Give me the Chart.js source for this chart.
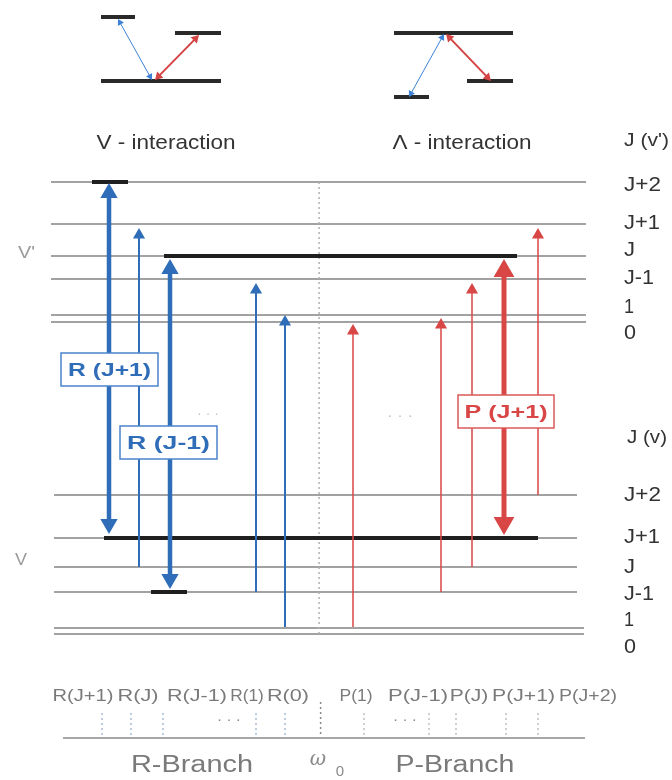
<!DOCTYPE html>
<html><head><meta charset="utf-8">
<script src="https://cdn.jsdelivr.net/npm/chart.js@4/dist/chart.umd.min.js"></script>
<style>html,body{margin:0;padding:0;background:#fff;}#wrap{width:672px;height:780px;}</style>
</head><body><div id="wrap"><canvas id="c" width="672" height="780"></canvas></div>
<script>
// ===== DATA (diagram units) =====
const levelLabels = ['J+2','J+1','J','J-1','1','0'];
const upperLevelY = [182, 224, 256, 279, 315, 322];
const lowerLevelY = [495, 538, 567, 592, 628, 634];
const upperLabelY = [185, 223, 250, 278, 307, 333];
const lowerLabelY = [495, 537, 567, 594, 620, 647];
const levelLabelW = [37, 36, 11, 30, 10, 12];
const upperStart = 51, upperEnd = 586;
const lowerStart = 54;
const lowerEnd = [577, 577, 577, 577, 584, 584];

// thick black (populated) levels: [x1, x2, y]
const barX1 = [92, 164, 104, 151];
const barX2 = [128, 517, 538, 187];
const barY  = [182, 256, 538, 592];

// R-branch transitions
const rNames  = ['R(J+1)','R(J)','R(J-1)','R(1)','R(0)'];
const rX      = [109, 139, 170, 256, 285];
const rTop    = [183, 228, 259, 283, 315];
const rBottom = [534, 567, 589, 592, 627];
const rDouble = [true, false, true, false, false];

// P-branch transitions
const pNames  = ['P(1)','P(J-1)','P(J)','P(J+1)','P(J+2)'];
const pX      = [353, 441, 472, 504, 538];
const pTop    = [324, 318, 283, 259, 228];
const pBottom = [627, 592, 567, 535, 495];
const pDouble = [false, false, false, true, false];

// boxed labels
const boxText = ['R (J+1)', 'R (J-1)', 'P (J+1)'];
const boxX1 = [61, 120, 458], boxX2 = [158, 217, 554];
const boxY1 = [353, 426, 395], boxY2 = [386, 459, 428];

// spectrum (bottom)
const specLabels = ['R(J+1)','R(J)','R(J-1)','R(1)','R(0)','P(1)','P(J-1)','P(J)','P(J+1)','P(J+2)'];
const specLabelX = [83, 138, 197, 247, 288, 356, 418, 469, 523.5, 588];
const specLabelW = [61, 41, 60, 33.5, 42, 33, 60, 38.6, 63, 58];
const specTickX  = [102, 131, 163, 256, 285, 364, 429, 456, 506, 538];
const omega0X = 320.6;

// top schematics: V and Lambda
const vBarX1 = [101, 175, 101], vBarX2 = [135, 221, 221], vBarY = [17, 33, 81];
const lBarX1 = [394, 394, 467], lBarX2 = [513, 429, 513], lBarY = [33, 97, 81];
const vBlue = [118, 19, 152, 80], vRed = [155, 80, 199, 35];
const lBlue = [409, 97, 444, 34], lRed = [446, 34, 491, 81];

// ===== styling =====
const BLUE = '#2f6db8', RED = '#d94646', GRAY = '#a2a2a2', BLACK = '#1f1f1f';
const FONT = '"Liberation Sans", Arial, sans-serif';

const datasets = [];
const heads = [];
function seg(x1, y1, x2, y2, color, width, order, dash) {
  datasets.push({ data: [{x:x1,y:y1},{x:x2,y:y2}], showLine: true, borderColor: color,
    borderWidth: width, pointRadius: 0, order: order, borderDash: dash || [], clip: false,
    borderCapStyle: 'butt' });
}
function arrow(x1, y1, x2, y2, color, width, r, headStart, headEnd, order) {
  const dx = x2 - x1, dy = y2 - y1, L = Math.hypot(dx, dy), ux = dx / L, uy = dy / L;
  let sx = x1, sy = y1, ex = x2, ey = y2;
  if (headEnd) { ex = x2 - ux * r; ey = y2 - uy * r;
    heads.push({x: ex, y: ey, rot: Math.atan2(ux, -uy) * 180 / Math.PI, r: r, c: color}); }
  if (headStart) { sx = x1 + ux * r; sy = y1 + uy * r;
    heads.push({x: sx, y: sy, rot: Math.atan2(-ux, uy) * 180 / Math.PI, r: r, c: color}); }
  seg(sx, sy, ex, ey, color, width, order);
}

// level lines
upperLevelY.forEach(y => seg(upperStart, y, upperEnd, y, GRAY, 2, 10));
lowerLevelY.forEach((y, i) => seg(lowerStart, y, lowerEnd[i], y, GRAY, 2, 10));
// centre dotted line
seg(omega0X - 1.5, 182, omega0X - 1.5, 636, '#b0b0b0', 1.5, 9, [2, 3]);
// populated levels
barX1.forEach((x, i) => seg(x, barY[i], barX2[i], barY[i], BLACK, 4, 8));
// R transitions
rX.forEach((x, i) => {
  if (rDouble[i]) arrow(x, rBottom[i], x, rTop[i], BLUE, 4.5, 10, true, true, 3);
  else arrow(x, rBottom[i], x, rTop[i], BLUE, 2, 7, false, true, 3);
});
// P transitions
pX.forEach((x, i) => {
  if (pDouble[i]) arrow(x, pBottom[i], x, pTop[i], RED, 5, 12, true, true, 3);
  else arrow(x, pBottom[i], x, pTop[i], RED, 1.5, 7, false, true, 3);
});
// top schematics
vBarX1.forEach((x, i) => seg(x, vBarY[i], vBarX2[i], vBarY[i], '#2a2a2a', 4, 8));
lBarX1.forEach((x, i) => seg(x, lBarY[i], lBarX2[i], lBarY[i], '#2a2a2a', 4, 8));
arrow(vBlue[0], vBlue[1], vBlue[2], vBlue[3], '#3d82d6', 1, 4, true, true, 3);
arrow(vRed[0], vRed[1], vRed[2], vRed[3], '#d44444', 2, 5, true, true, 3);
arrow(lBlue[0], lBlue[1], lBlue[2], lBlue[3], '#3d82d6', 1, 4, true, true, 3);
arrow(lRed[0], lRed[1], lRed[2], lRed[3], '#d44444', 2, 5, true, true, 3);
// spectrum ticks and baseline
specTickX.forEach((x, i) => seg(x, 713, x, 737, i < 5 ? '#a9bcd6' : '#c0c0c0', 1.5, 6, [2, 3]));
seg(omega0X, 702, omega0X, 736, '#888', 1.5, 6, [2, 3]);
seg(63, 738, 585, 738, '#8a8a8a', 1.5, 6);

// arrowheads
datasets.push({ data: heads.map(h => ({x: h.x, y: h.y})), showLine: false, order: 0,
  pointStyle: 'triangle', pointRadius: heads.map(h => h.r), pointRotation: heads.map(h => h.rot),
  pointBackgroundColor: heads.map(h => h.c), pointBorderWidth: 0, clip: false });

function txt(ctx, s, x, y, font, color, align, width) {
  ctx.save();
  ctx.font = font; ctx.fillStyle = color; ctx.textBaseline = 'middle'; ctx.textAlign = 'left';
  const w = ctx.measureText(s).width;
  const t = width || w;
  const left = align === 'left' ? x : align === 'right' ? x - t : x - t / 2;
  ctx.translate(left, y); ctx.scale(t / w, 1); ctx.fillText(s, 0, 0);
  ctx.restore();
}

const textPlugin = {
  id: 'texts',
  afterDatasetsDraw(chart) {
    const ctx = chart.ctx, xs = chart.scales.x, ys = chart.scales.y;
    const X = v => xs.getPixelForValue(v), Y = v => ys.getPixelForValue(v);
    txt(ctx, 'V - interaction', X(166), Y(143), '21px ' + FONT, '#333', 'center', 139);
    txt(ctx, '\u039B - interaction', X(462), Y(143), '21px ' + FONT, '#333', 'center', 139);
    txt(ctx, "J (v')", X(624), Y(141), '19px ' + FONT, '#333', 'left', 45);
    txt(ctx, 'J (v)', X(627), Y(438), '19px ' + FONT, '#333', 'left', 40);
    levelLabels.forEach((s, i) => {
      txt(ctx, s, X(624), Y(upperLabelY[i]), '20px ' + FONT, '#333', 'left', levelLabelW[i]);
      txt(ctx, s, X(624), Y(lowerLabelY[i]), '20px ' + FONT, '#333', 'left', levelLabelW[i]);
    });
    txt(ctx, "V'", X(18), Y(253), '17px ' + FONT, '#9a9a9a', 'left', 17);
    txt(ctx, 'V', X(15), Y(560), '17px ' + FONT, '#9a9a9a', 'left', 12);
    // boxes
    boxText.forEach((s, i) => {
      const c = i < 2 ? BLUE : RED, bc = i < 2 ? '#4a84cc' : '#dc5a5a';
      const x1 = X(boxX1[i]), x2 = X(boxX2[i]), y1 = Y(boxY1[i]), y2 = Y(boxY2[i]);
      ctx.save(); ctx.fillStyle = '#fff'; ctx.fillRect(x1, y1, x2 - x1, y2 - y1);
      ctx.strokeStyle = bc; ctx.lineWidth = 1.5; ctx.strokeRect(x1, y1, x2 - x1, y2 - y1); ctx.restore();
      txt(ctx, s, (x1 + x2) / 2, (y1 + y2) / 2 + 1, 'bold 19px ' + FONT, c, 'center', 83);
    });
    // faint ellipses
    txt(ctx, '\u00B7 \u00B7 \u00B7', X(208), Y(414), '14px ' + FONT, '#c4c4c4', 'center', 22);
    txt(ctx, '\u00B7 \u00B7 \u00B7', X(400), Y(416), '14px ' + FONT, '#c4c4c4', 'center', 26);
    txt(ctx, '\u00B7 \u00B7 \u00B7', X(229), Y(720), '14px ' + FONT, '#888', 'center', 24);
    txt(ctx, '\u00B7 \u00B7 \u00B7', X(405), Y(720), '14px ' + FONT, '#888', 'center', 24);
    // spectrum labels
    specLabels.forEach((s, i) => txt(ctx, s, X(specLabelX[i]), Y(697), '16px ' + FONT, '#7a7a7a', 'center', specLabelW[i]));
    txt(ctx, 'R-Branch', X(192), Y(766), '23px ' + FONT, '#7a7a7a', 'center', 122);
    txt(ctx, 'P-Branch', X(455), Y(766), '23px ' + FONT, '#7a7a7a', 'center', 119);
    txt(ctx, '\u03C9', X(318), Y(760), 'italic 20px "DejaVu Serif", serif', '#8a8a8a', 'center');
    txt(ctx, '0', X(340), Y(772), '15px ' + FONT, '#8a8a8a', 'center');
  }
};

new Chart(document.getElementById('c'), {
  type: 'scatter',
  data: { datasets: datasets },
  options: {
    responsive: false, animation: false, events: [],
    layout: { padding: 0, autoPadding: false },
    plugins: { legend: { display: false }, tooltip: { enabled: false } },
    scales: {
      x: { type: 'linear', min: 0, max: 672, display: false },
      y: { type: 'linear', min: 0, max: 780, reverse: true, display: false }
    }
  },
  plugins: [textPlugin]
});
</script></body></html>
